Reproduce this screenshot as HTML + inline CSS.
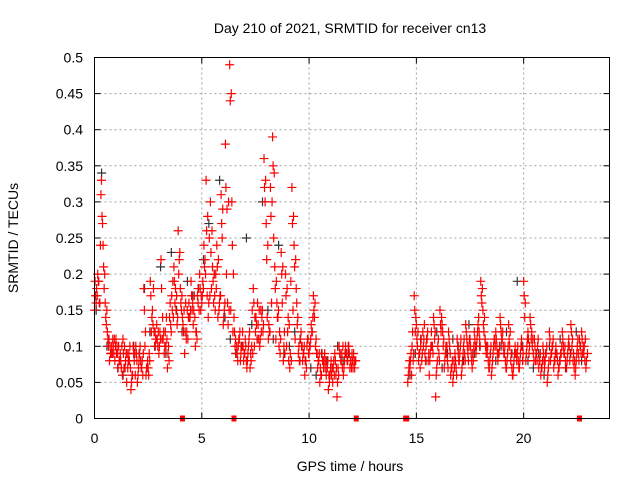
<!DOCTYPE html>
<html><head><meta charset="utf-8"><style>
html,body{margin:0;padding:0;background:#fff}
svg{display:block;font-family:"Liberation Sans",sans-serif}
</style></head><body>
<svg id="chart" width="640" height="480" viewBox="0 0 640 480">
<rect width="640" height="480" fill="#fff"/>
<text x="350" y="33" font-size="14" text-anchor="middle">Day 210 of 2021, SRMTID for receiver cn13</text>
<text x="350" y="471" font-size="14" text-anchor="middle">GPS time / hours</text>
<text transform="translate(18,238) rotate(-90)" font-size="14" text-anchor="middle">SRMTID / TECUs</text>
<g id="grid"></g>
<g id="ticks"></g>
<g id="black"></g>
<g id="red"></g>
<g id="gaps"></g>
<rect x="94.5" y="57.5" width="515" height="361" fill="none" stroke="#000" stroke-width="1"/>
</svg>
<script>
const xTicks=[0,5,10,15,20];
const yTicks=[0,0.05,0.1,0.15,0.2,0.25,0.3,0.35,0.4,0.45,0.5];
const yTickLabels=["0","0.05","0.1","0.15","0.2","0.25","0.3","0.35","0.4","0.45","0.5"];
const red1Start=0.0;
const red1=[.15,.18,.19,.31,.24,.16,.12,.08,.10,.09,.11,.07,.09,.06,.10,.05,.09,.04,.10,.06,.05,.09,.07,.18,.06,.07,.19,.15,.10,.13,.09,.22,.11,.12,.07,.14,.17,.21,.15,.26,.18,.14,.09,.12,.16,.19,.13,.10,.17,.20,.16,.24,.33,.14,.30,.21,.17,.24,.15,.31,.13,.38,.16,.49,.30,.14,.09,.10,.08,.12,.09,.07,.11,.08,.18,.12,.16,.10,.14,.36,.27,.11,.32,.39,.21,.16,.10,.23,.08,.20,.12,.07,.32,.24,.18,.09,.11,.08,.06,.10,.09,.13,.17,.10,.07,.05,.09,.08,.06,.04,.07,.05,.09,.03,.10,.08,.06,.10,.08,.07,.09,.08];
const red1bStart=0.05;
const red1b=[.17,.20,.16,.28,.18,.13,.10,.09,.11,.08,.10,.08,.07,.09,.08,.07,.10,.06,.08,.09,.07,.08,.06,.10,.07,.09,.12,.18,.11,.10,.12,.11,.09,.14,.10,.13,.19,.16,.13,.22,.15,.12,.16,.11,.14,.15,.17,.12,.18,.15,.19,.22,.17,.25,.18,.16,.20,.14,.17,.25,.15,.20,.30,.15,.12,.10,.09,.11,.10,.08,.10,.09,.07,.15,.10,.13,.11,.15,.12,.30,.14,.12,.16,.25,.11,.14,.09,.16,.12,.10,.08,.19,.15,.11,.13,.08,.10,.09,.08,.11,.10,.12,.14,.09,.08,.06,.08,.07,.07,.05,.06,.08,.06,.07,.09,.07,.08,.09,.10,.08,.07,.08];
const red1cStart=0.025;
const red1c=[.19,.17,.16,.33,.21,.14,.11,.10,.09,.11,.09,.10,.08,.11,.07,.09,.08,.05,.09,.10,.06,.10,.08,.15,.07,.06,.17,.13,.12,.11,.10,.18,.12,.10,.09,.16,.15,.19,.17,.20,.16,.13,.12,.15,.14,.17,.15,.12,.16,.18,.17,.21,.26,.16,.23,.19,.15,.21,.16,.27,.14,.32,.13,.44,.24,.12,.10,.11,.09,.10,.11,.08,.12,.10,.16,.14,.13,.11,.15,.32,.22,.13,.28,.35,.18,.14,.12,.20,.10,.17,.14,.09,.27,.21,.16,.10,.12,.09,.08,.11,.10,.12,.15,.11,.08,.07,.08,.09,.07,.06,.08,.07,.08,.05,.09,.09,.07,.09,.10,.08,.08,.07];
const red1dStart=0.075;
const red1d=[.16,.19,.24,.27,.20,.15,.11,.09,.10,.10,.09,.08,.10,.07,.09,.08,.07,.06,.09,.08,.08,.07,.09,.12,.08,.08,.14,.12,.11,.12,.11,.14,.10,.11,.08,.12,.14,.18,.14,.23,.17,.15,.11,.14,.15,.16,.14,.11,.15,.17,.18,.20,.28,.17,.26,.20,.18,.22,.17,.29,.16,.29,.15,.45,.20,.11,.08,.12,.10,.09,.08,.10,.09,.09,.14,.11,.15,.12,.13,.33,.24,.12,.30,.34,.19,.15,.11,.21,.09,.18,.13,.08,.28,.22,.14,.08,.10,.10,.07,.09,.11,.14,.16,.09,.09,.06,.07,.08,.08,.06,.07,.06,.07,.06,.08,.10,.09,.08,.09,.07,.09,.08];
const red2Start=14.6;
const red2=[.05,.07,.10,.17,.13,.08,.10,.12,.09,.11,.06,.12,.14,.03,.10,.15,.13,.07,.09,.12,.06,.05,.09,.11,.08,.06,.10,.13,.09,.11,.07,.12,.10,.14,.19,.15,.11,.09,.07,.06,.10,.12,.08,.14,.11,.09,.07,.13,.08,.06,.10,.09,.07,.11,.19,.08,.12,.14,.10,.11,.09,.07,.06,.10,.08,.05,.12,.09,.07,.10,.06,.08,.12,.09,.07,.11,.13,.08,.06,.10,.11,.12,.09,.07];
const red2bStart=14.65;
const red2b=[.07,.09,.08,.12,.10,.09,.08,.11,.10,.08,.09,.10,.11,.07,.09,.12,.10,.09,.08,.10,.07,.08,.07,.09,.10,.08,.09,.11,.10,.09,.08,.10,.12,.11,.16,.12,.09,.08,.09,.08,.11,.10,.09,.12,.10,.08,.09,.10,.07,.08,.09,.08,.09,.08,.14,.10,.09,.11,.09,.08,.10,.08,.07,.08,.09,.07,.08,.10,.08,.09,.07,.09,.10,.08,.09,.08,.10,.07,.08,.09,.10,.09,.08];
const red2cStart=14.625;
const red2c=[.06,.08,.12,.15,.11,.09,.11,.10,.08,.12,.08,.10,.13,.06,.11,.13,.12,.08,.10,.11,.07,.06,.08,.10,.09,.07,.11,.12,.08,.10,.09,.11,.11,.12,.17,.13,.10,.10,.08,.07,.11,.11,.09,.13,.12,.10,.08,.11,.09,.07,.09,.10,.08,.10,.17,.09,.11,.13,.11,.10,.08,.08,.07,.09,.09,.06,.11,.10,.08,.09,.07,.09,.11,.10,.08,.10,.12,.09,.07,.11,.10,.11,.10,.08];
const red2dStart=14.675;
const red2d=[.08,.06,.09,.14,.12,.07,.09,.13,.11,.09,.10,.09,.12,.08,.08,.14,.11,.10,.07,.09,.08,.07,.06,.08,.11,.09,.08,.10,.11,.08,.10,.09,.13,.10,.18,.14,.10,.07,.10,.09,.10,.09,.10,.11,.09,.07,.10,.12,.06,.09,.08,.07,.10,.09,.16,.11,.10,.12,.08,.09,.11,.09,.08,.07,.10,.08,.09,.11,.09,.08,.08,.10,.09,.07,.10,.09,.11,.08,.09,.08,.09,.10,.11,.09];
const blackStart=0.08;
const blackStep=0.25;
const black=[.15,.34,.10,.09,.07,.06,.08,.10,.09,.18,.12,.10,.21,.09,.23,.15,.12,.19,.17,.18,.22,.27,.20,.33,.14,.11,.09,.10,.25,.13,.11,.30,.15,.11,.24,.09,.10,.12,.11,.08,.07,.06,.09,.08,.07,.10,.08,.09];
const black2Start=14.7;
const black2=[.06,.09,.11,.08,.10,.12,.07,.09,.11,.10,.08,.13,.09,.10,.11,.09,.08,.10,.12,.09,.19,.10,.08,.07,.09,.06,.10,.08,.11,.07,.09,.12,.08];
const gapTimes=[4.1,6.5,12.2,14.5,14.55,22.6];

const X0=94.5,X1=609.5,XMAX=24,Y0=418.5,Y1=57.5,YMAX=0.5;
function xs(t){return X0+(X1-X0)*t/XMAX;}
function ys(v){return Y0-(Y0-Y1)*v/YMAX;}
const NS="http://www.w3.org/2000/svg";
function mk(tag,attrs,parent){const e=document.createElementNS(NS,tag);for(const k in attrs)e.setAttribute(k,attrs[k]);parent.appendChild(e);return e;}
const grid=document.getElementById('grid'),ticks=document.getElementById('ticks');
xTicks.forEach((t,i)=>{
  const x=xs(t);
  if(t>0){const g=mk('line',{x1:x,x2:x,y1:Y1,y2:Y0,stroke:'#a0a0a0','stroke-dasharray':'2,3'},grid);
  
  }
  mk('line',{x1:x,x2:x,y1:Y0,y2:Y0-6,stroke:'#000'},ticks);
  mk('line',{x1:x,x2:x,y1:Y1,y2:Y1+6,stroke:'#000'},ticks);
  const l=mk('text',{x:x,y:443,'font-size':14,'text-anchor':'middle'},ticks);
  l.textContent=String(t);
  
  
});
yTicks.forEach((v,i)=>{
  const y=ys(v);
  if(v>0&&v<YMAX){const g=mk('line',{x1:X0,x2:X1,y1:y,y2:y,stroke:'#a0a0a0','stroke-dasharray':'2,3'},grid);
  
  }
  mk('line',{x1:X0,x2:X0+6,y1:y,y2:y,stroke:'#000'},ticks);
  mk('line',{x1:X1,x2:X1-6,y1:y,y2:y,stroke:'#000'},ticks);
  const l=mk('text',{x:83,y:y+5,'font-size':14,'text-anchor':'end'},ticks);
  l.textContent=yTickLabels[i];
  
  
});
function plus(g,t,v,color){
  const x=xs(t),y=ys(v);
  const p=mk('path',{d:`M${x-4.5},${y}h9M${x},${y-4.5}v9`,stroke:color,'stroke-width':1.2,fill:'none'},g);
  
  
}
const bg=document.getElementById('black'),rg=document.getElementById('red');
black.forEach((v,i)=>plus(bg,blackStart+i*blackStep,v,'#333'));
black2.forEach((v,i)=>plus(bg,black2Start+i*blackStep,v,'#333'));
[[red1,red1Start],[red1b,red1bStart],[red1c,red1cStart],[red1d,red1dStart],[red2,red2Start],[red2b,red2bStart],[red2c,red2cStart],[red2d,red2dStart]].forEach(([arr,s])=>{
  arr.forEach((v,i)=>plus(rg,s+i*0.1,v,'#f00'));
});
const gg=document.getElementById('gaps');
gapTimes.forEach(t=>{
  const r=mk('rect',{x:xs(t)-2.5,y:Y0-3,width:5,height:6,fill:'#f00'},gg);
  
  
});
</script>
</body></html>
